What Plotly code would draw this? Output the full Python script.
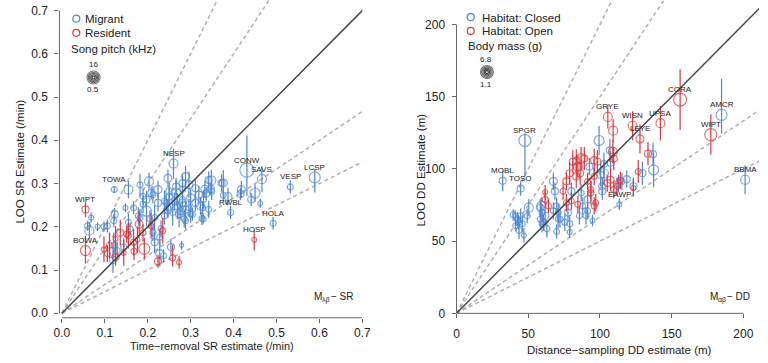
import plotly.graph_objects as go

BLUE = "#4f87d0"
RED = "#e0353b"
FONT = "Liberation Sans, Arial, sans-serif"

# ---------------- Left panel: SR (/min) ----------------
# Migrant: x, y, err+, err-, marker size
mig_x = [0.260, 0.122, 0.155, 0.431, 0.466, 0.532, 0.589, 0.393, 0.492, 0.348, 0.347, 0.376, 0.418, 0.416,
         0.450, 0.441, 0.462, 0.387, 0.376, 0.333, 0.336, 0.328, 0.329, 0.288, 0.281, 0.266, 0.250, 0.239,
         0.281, 0.269, 0.247, 0.288, 0.304, 0.323, 0.326, 0.285, 0.273, 0.258, 0.254, 0.279, 0.237, 0.068,
         0.060, 0.064, 0.083, 0.098, 0.106, 0.123, 0.121, 0.148, 0.167, 0.182, 0.203, 0.208, 0.189, 0.197,
         0.224, 0.216, 0.178, 0.155, 0.159, 0.121, 0.129, 0.119, 0.144, 0.216, 0.212, 0.228, 0.231, 0.228,
         0.247, 0.250, 0.266, 0.281, 0.296, 0.311, 0.342, 0.349, 0.372, 0.319, 0.300, 0.281, 0.262, 0.243,
         0.247, 0.277, 0.296, 0.311, 0.330, 0.288, 0.300, 0.342, 0.205, 0.239, 0.182, 0.189, 0.197, 0.212,
         0.224]
mig_y = [0.346, 0.286, 0.286, 0.331, 0.310, 0.292, 0.314, 0.233, 0.208, 0.307, 0.287, 0.301, 0.286, 0.276,
         0.278, 0.263, 0.254, 0.270, 0.273, 0.287, 0.277, 0.244, 0.218, 0.316, 0.301, 0.278, 0.270, 0.259,
         0.255, 0.248, 0.244, 0.240, 0.229, 0.248, 0.219, 0.218, 0.229, 0.233, 0.153, 0.157, 0.133, 0.221,
         0.202, 0.191, 0.200, 0.200, 0.202, 0.229, 0.214, 0.244, 0.244, 0.297, 0.305, 0.278, 0.270, 0.236,
         0.255, 0.221, 0.225, 0.210, 0.195, 0.157, 0.145, 0.123, 0.153, 0.164, 0.187, 0.176, 0.195, 0.138,
         0.312, 0.282, 0.293, 0.286, 0.297, 0.289, 0.308, 0.282, 0.301, 0.274, 0.267, 0.263, 0.259, 0.255,
         0.240, 0.236, 0.244, 0.255, 0.263, 0.214, 0.229, 0.240, 0.218, 0.225, 0.221, 0.252, 0.263, 0.274,
         0.286]
mig_up = [0.035, 0.008, 0.020, 0.080, 0.030, 0.015, 0.020, 0.015, 0.015, 0.025, 0.015, 0.030, 0.020, 0.015,
          0.020, 0.015, 0.010, 0.020, 0.015, 0.020, 0.015, 0.015, 0.012, 0.025, 0.020, 0.030, 0.020, 0.025,
          0.020, 0.030, 0.020, 0.020, 0.015, 0.020, 0.015, 0.020, 0.030, 0.030, 0.020, 0.010, 0.015, 0.012,
          0.012, 0.020, 0.010, 0.012, 0.015, 0.015, 0.015, 0.010, 0.015, 0.025, 0.020, 0.015, 0.020, 0.035,
          0.020, 0.030, 0.020, 0.020, 0.015, 0.030, 0.020, 0.030, 0.020, 0.025, 0.020, 0.020, 0.020, 0.030,
          0.020, 0.020, 0.020, 0.020, 0.030, 0.020, 0.020, 0.020, 0.020, 0.020, 0.020, 0.020, 0.020, 0.020,
          0.020, 0.020, 0.020, 0.020, 0.020, 0.020, 0.020, 0.020, 0.020, 0.020, 0.020, 0.020, 0.020, 0.020,
          0.020]
mig_lo = [0.035, 0.008, 0.020, 0.060, 0.030, 0.015, 0.035, 0.015, 0.015, 0.025, 0.015, 0.030, 0.020, 0.015,
          0.020, 0.015, 0.010, 0.020, 0.015, 0.020, 0.015, 0.015, 0.012, 0.025, 0.020, 0.030, 0.020, 0.025,
          0.020, 0.030, 0.020, 0.020, 0.015, 0.020, 0.015, 0.020, 0.030, 0.030, 0.020, 0.010, 0.015, 0.012,
          0.012, 0.020, 0.010, 0.012, 0.015, 0.015, 0.015, 0.010, 0.015, 0.025, 0.020, 0.015, 0.020, 0.035,
          0.020, 0.030, 0.020, 0.020, 0.015, 0.030, 0.020, 0.030, 0.020, 0.025, 0.020, 0.020, 0.020, 0.030,
          0.020, 0.020, 0.020, 0.020, 0.030, 0.020, 0.020, 0.020, 0.020, 0.020, 0.020, 0.020, 0.020, 0.020,
          0.020, 0.020, 0.020, 0.020, 0.020, 0.020, 0.020, 0.020, 0.020, 0.020, 0.020, 0.020, 0.020, 0.020,
          0.020]
mig_size = [9, 6, 9, 14, 9, 6, 11, 6, 6, 9, 7, 8, 8, 7,
            10, 7, 5, 8, 6, 8, 7, 6, 6, 8, 7, 10, 7, 6,
            8, 7, 6, 7, 6, 8, 6, 6, 7, 6, 7, 4, 6, 5,
            6, 9, 5, 6, 6, 7, 6, 5, 6, 6, 9, 7, 6, 10,
            7, 6, 6, 6, 6, 6, 6, 7, 6, 7, 6, 6, 6, 8,
            8, 7, 7, 6, 8, 7, 7, 6, 7, 7, 8, 6, 7, 6,
            8, 7, 6, 7, 6, 6, 6, 6, 6, 6, 6, 6, 7, 6,
            8]

# Resident
res_x = [0.055, 0.055, 0.448, 0.136, 0.180, 0.151, 0.125, 0.111, 0.098, 0.106, 0.125, 0.144, 0.168, 0.192,
         0.167, 0.155, 0.189, 0.224, 0.258, 0.273, 0.235, 0.208, 0.176]
res_y = [0.240, 0.145, 0.170, 0.186, 0.206, 0.183, 0.172, 0.157, 0.148, 0.138, 0.130, 0.140, 0.143, 0.149,
         0.164, 0.180, 0.186, 0.120, 0.128, 0.118, 0.191, 0.202, 0.170]
res_up = [0.018, 0.035, 0.022, 0.030, 0.030, 0.020, 0.030, 0.030, 0.030, 0.020, 0.020, 0.030, 0.020, 0.025,
          0.030, 0.030, 0.020, 0.015, 0.030, 0.015, 0.030, 0.030, 0.030]
res_lo = [0.018, 0.030, 0.025, 0.030, 0.030, 0.020, 0.030, 0.030, 0.030, 0.020, 0.020, 0.030, 0.020, 0.025,
          0.030, 0.030, 0.020, 0.015, 0.020, 0.015, 0.030, 0.030, 0.030]
res_size = [7, 10, 5, 7, 8, 6, 5, 6, 5, 6, 7, 5, 6, 11, 6, 6, 6, 7, 6, 5, 6, 6, 5]

sr_labels = ["NESP", "TOWA", "CONW", "SAVS", "VESP", "LCSP", "RWBL", "HOLA"]
sr_label_idx = [0, 1, 3, 4, 5, 6, 7, 8]
sr_res_labels = ["WIPT", "BOWA", "HOSP"]
sr_res_label_idx = [0, 1, 2]

# ---------------- Right panel: DD (m) ----------------
clo_x = [47.7, 32.2, 44.7, 184.8, 201.2, 113.5, 137.0, 137.4, 129.6, 118.7, 123.3, 99.4, 106.9, 92.6,
         100.5, 101.6, 115.3, 86.9, 91.4, 88.0, 91.4, 94.8, 85.7, 40.9, 44.7, 50.4, 49.3, 43.2,
         45.9, 43.6, 47.0, 42.5, 58.4, 58.4, 61.8, 59.6, 63.0, 69.8, 67.5, 69.8, 72.1, 75.5,
         67.5, 70.9, 77.7, 39.5, 41.3, 59.1, 59.6, 60.7, 68.6, 70.9, 78.9, 78.9, 80.1, 90.3,
         101.6, 102.8, 107.4, 102.8, 113.0]
clo_y = [119.7, 91.8, 86.4, 137.4, 92.5, 75.5, 110.2, 99.3, 97.0, 92.9, 88.0, 119.7, 112.9, 101.6,
         95.9, 88.0, 91.4, 83.4, 78.9, 74.4, 71.0, 64.2, 67.6, 67.6, 67.6, 73.2, 67.6, 63.0,
         62.0, 57.4, 54.0, 65.3, 73.2, 65.3, 67.6, 62.0, 58.6, 56.7, 91.4, 74.4, 65.3, 63.0,
         71.0, 69.8, 69.8, 68.1, 60.8, 74.4, 69.8, 63.0, 84.6, 65.3, 56.3, 62.0, 84.6, 67.6,
         84.6, 97.0, 104.3, 103.4, 90.0]
clo_up = [5, 7, 5, 25, 10, 4, 8, 12, 8, 6, 6, 10, 8, 6,
          8, 6, 6, 6, 6, 6, 6, 4, 6, 4, 5, 6, 5, 5,
          6, 6, 5, 5, 6, 6, 6, 6, 6, 5, 6, 6, 6, 6,
          6, 6, 6, 4, 4, 6, 6, 6, 6, 6, 4, 6, 6, 6,
          6, 8, 8, 8, 6]
clo_lo = [25, 7, 5, 13, 10, 4, 8, 12, 8, 6, 6, 10, 8, 6,
          8, 6, 6, 6, 6, 6, 6, 4, 6, 4, 5, 6, 5, 5,
          6, 6, 5, 5, 6, 6, 6, 6, 6, 5, 6, 6, 6, 6,
          6, 6, 6, 4, 4, 6, 6, 6, 6, 6, 4, 6, 6, 6,
          6, 8, 8, 8, 6]
clo_size = [12, 7, 7, 11, 9, 5, 7, 10, 7, 7, 7, 10, 7, 7,
            7, 7, 6, 6, 7, 6, 6, 5, 6, 5, 6, 9, 6, 6,
            6, 6, 5, 6, 7, 6, 7, 6, 6, 6, 8, 6, 6, 6,
            6, 6, 7, 6, 6, 9, 6, 6, 7, 6, 5, 6, 7, 6,
            7, 9, 7, 7, 7]

opn_x = [105.5, 122.8, 127.9, 142.2, 155.9, 177.3, 133.5, 126.7, 114.2, 123.3, 109.2, 109.6, 109.0, 89.1,
         98.2, 84.6, 83.5, 96.0, 107.4, 111.9, 93.7, 96.0, 61.8, 61.8, 64.1, 74.3, 76.6, 78.9,
         81.1, 80.1, 76.6, 83.5, 86.9, 86.2, 96.0, 84.6, 97.1, 93.7, 91.4, 109.6, 105.1]
opn_y = [136.0, 129.9, 120.8, 131.7, 148.0, 123.8, 110.6, 98.2, 92.1, 86.8, 126.5, 107.2, 111.8, 107.2,
         105.0, 101.6, 94.8, 94.8, 92.5, 88.0, 83.4, 74.4, 83.9, 78.9, 74.4, 84.6, 91.4, 97.0,
         105.0, 77.8, 76.6, 105.6, 107.2, 97.0, 106.1, 75.5, 76.6, 85.7, 91.4, 85.7, 90.2]
opn_up = [8, 10, 10, 12, 21, 14, 8, 8, 6, 6, 8, 8, 8, 8,
          8, 8, 8, 6, 8, 6, 8, 6, 5, 6, 5, 6, 6, 8,
          8, 6, 6, 8, 8, 8, 8, 6, 6, 6, 6, 6, 6]
opn_lo = [8, 10, 10, 12, 21, 14, 8, 8, 6, 6, 8, 8, 8, 8,
          8, 8, 8, 6, 8, 6, 8, 6, 5, 6, 5, 6, 6, 8,
          8, 6, 6, 8, 8, 8, 8, 6, 6, 6, 6, 6, 6]
opn_size = [9, 9, 8, 9, 13, 12, 7, 6, 6, 5, 9, 7, 9, 7,
            7, 9, 7, 6, 7, 6, 6, 6, 5, 6, 6, 6, 7, 7,
            7, 6, 6, 7, 10, 7, 7, 6, 6, 6, 6, 6, 7]

dd_labels = ["SPGR", "MOBL", "TOSO", "AMCR", "BBMA", "EAWP"]
dd_label_idx = [0, 1, 2, 3, 4, 5]
dd_open_labels = ["GRYE", "WISN", "LEYE", "UPSA", "CORA", "WIPT"]
dd_open_label_idx = [0, 1, 2, 3, 4, 5]

ref_slopes = [2.0, 1.5, 1 / 1.5, 0.5]

# ---------------- Figure ----------------
W, H = 768, 363
fig = go.Figure()


def ref_lines(xa, ya, xmax):
    for s in ref_slopes:
        fig.add_trace(go.Scatter(x=[0, xmax], y=[0, s * xmax], mode="lines", xaxis=xa, yaxis=ya,
                                 line=dict(color="#b0b0b0", width=1.5, dash="4px,3px"),
                                 hoverinfo="skip", showlegend=False))


def pts(xa, ya, x, y, up, lo, size, color):
    fig.add_trace(go.Scatter(x=x, y=y, mode="markers", xaxis=xa, yaxis=ya, showlegend=False,
                             marker=dict(symbol="circle-open", size=size, color=color,
                                         line=dict(width=1.2, color=color)),
                             error_y=dict(type="data", symmetric=False, array=up, arrayminus=lo,
                                          color=color, thickness=1.2, width=0)))


ref_lines("x", "y", 1.0)
pts("x", "y", mig_x, mig_y, mig_up, mig_lo, mig_size, BLUE)
pts("x", "y", res_x, res_y, res_up, res_lo, res_size, RED)
fig.add_trace(go.Scatter(x=[0, 1], y=[0, 1], mode="lines", xaxis="x", yaxis="y",
                         line=dict(color="#444444", width=1.5), hoverinfo="skip", showlegend=False))

ref_lines("x2", "y2", 300)
pts("x2", "y2", clo_x, clo_y, clo_up, clo_lo, clo_size, BLUE)
pts("x2", "y2", opn_x, opn_y, opn_up, opn_lo, opn_size, RED)
fig.add_trace(go.Scatter(x=[0, 300], y=[0, 300], mode="lines", xaxis="x2", yaxis="y2",
                         line=dict(color="#444444", width=1.5), hoverinfo="skip", showlegend=False))

ann = []
for name, i in zip(sr_labels, sr_label_idx):
    ann.append(dict(x=mig_x[i], y=mig_y[i], xref="x", yref="y", text=name, showarrow=False, yshift=10))
for name, i in zip(sr_res_labels, sr_res_label_idx):
    ann.append(dict(x=res_x[i], y=res_y[i], xref="x", yref="y", text=name, showarrow=False, yshift=10))
for name, i in zip(dd_labels, dd_label_idx):
    ann.append(dict(x=clo_x[i], y=clo_y[i], xref="x2", yref="y2", text=name, showarrow=False, yshift=10))
for name, i in zip(dd_open_labels, dd_open_label_idx):
    ann.append(dict(x=opn_x[i], y=opn_y[i], xref="x2", yref="y2", text=name, showarrow=False, yshift=10))
for a in ann:
    a["font"] = dict(family=FONT, size=8, color="#222")


def ptxt(px, py, text, size=11, xanchor="center", angle=0):
    ann.append(dict(x=px / W, y=1 - py / H, xref="paper", yref="paper", text=text, showarrow=False,
                    xanchor=xanchor, yanchor="middle", textangle=angle, borderpad=0,
                    font=dict(family=FONT, size=size, color="#222")))


# axis titles
ptxt(210, 352.5, "Time\u2212removal SR estimate (/min)", size=11)
ptxt(626, 357, "Distance\u2212sampling DD estimate (m)", size=11.5)
ptxt(14, 165, "LOO SR Estimate (/min)", size=11.5, angle=-90)
ptxt(423, 173, "LOO DD Estimate (m)", size=11.5, angle=-90)
# model tags (M + subscript + rest)
ptxt(313, 302.5, "M", size=10, xanchor="left")
ptxt(321.5, 305.5, "\u03bb\u03b2", size=7, xanchor="left")
ptxt(330, 302.5, "\u2212 SR", size=10, xanchor="left")
ptxt(716.5, 302.5, "M", size=10, xanchor="left")
ptxt(725, 305.5, "\u03b1\u03b2", size=7, xanchor="left")
ptxt(734, 302.5, "\u2212 DD", size=10, xanchor="left")
# legends
ptxt(80, 19, "Migrant", size=11.5, xanchor="left")
ptxt(80, 33.5, "Resident", size=11.5, xanchor="left")
ptxt(65, 50, "Song pitch (kHz)", size=11.5, xanchor="left")
ptxt(89, 66, "16", size=8)
ptxt(89, 91, "0.5", size=8)
ptxt(484, 18.5, "Habitat: Closed", size=11.5, xanchor="left")
ptxt(484, 31.5, "Habitat: Open", size=11.5, xanchor="left")
ptxt(470.5, 47, "Body mass (g)", size=11.5, xanchor="left")
ptxt(490, 61, "6.8", size=8)
ptxt(490, 86.5, "1.1", size=8)

shapes = []


def pcircle(px, py, d, color, width=1.2):
    shapes.append(dict(type="circle", xref="paper", yref="paper", xsizemode="pixel", ysizemode="pixel",
                       xanchor=px / W, yanchor=1 - py / H, x0=-d / 2, x1=d / 2, y0=-d / 2, y1=d / 2,
                       line=dict(color=color, width=width)))


pcircle(71.7, 19, 7, BLUE)
pcircle(71.7, 33.5, 7, RED)
pcircle(474, 17.5, 7, BLUE)
pcircle(474, 31.5, 7, RED)
for cx, cy in [(89.3, 79), (490.5, 73.5)]:
    for d, c in zip([13, 10.5, 8, 5.5, 3], ["#777", "#666", "#555", "#444", "#333"]):
        pcircle(cx, cy, d, c, 1.1)

AX = "#666666"
shapes += [
    dict(type="line", xref="x", yref="y domain", x0=0, x1=0.7, y0=0, y1=0, line=dict(color=AX, width=1)),
    dict(type="line", xref="x domain", yref="y", x0=0, x1=0, y0=0, y1=0.7, line=dict(color=AX, width=1)),
    dict(type="line", xref="x2", yref="y2 domain", x0=0, x1=200, y0=0, y1=0, line=dict(color=AX, width=1)),
    dict(type="line", xref="x2 domain", yref="y2", x0=0, x1=0, y0=0, y1=200, line=dict(color=AX, width=1)),
]

axis_common = dict(showgrid=False, zeroline=False, showline=False, ticks="outside", ticklen=4,
                   tickcolor=AX, tickwidth=1, tickfont=dict(family=FONT, size=12, color="#222"))

fig.update_layout(
    width=W, height=H, margin=dict(l=0, r=0, t=0, b=0), paper_bgcolor="white", plot_bgcolor="white",
    showlegend=False, annotations=ann, shapes=shapes,
    xaxis=dict(domain=[54.5 / W, 363.5 / W], range=[-0.0057, 0.7], anchor="y",
               tickvals=[0, 0.1, 0.2, 0.3, 0.4, 0.5, 0.6, 0.7], tickformat=".1f",
               ticklabelstandoff=0, **axis_common),
    yaxis=dict(domain=[(H - 324) / H, 1], range=[-0.0104, 0.7243], anchor="x",
               tickvals=[0, 0.1, 0.2, 0.3, 0.4, 0.5, 0.6, 0.7], tickformat=".1f",
               ticklabelstandoff=4, **axis_common),
    xaxis2=dict(domain=[459.5 / W, 1], range=[0, 210.9], anchor="y2",
                tickvals=[0, 50, 100, 150, 200], ticklabelstandoff=5, **axis_common),
    yaxis2=dict(domain=[(H - 319.5) / H, 1], range=[0, 217], anchor="x2",
                tickvals=[0, 50, 100, 150, 200], ticklabelstandoff=4, **axis_common),
)

fig.write_html("out.html")
